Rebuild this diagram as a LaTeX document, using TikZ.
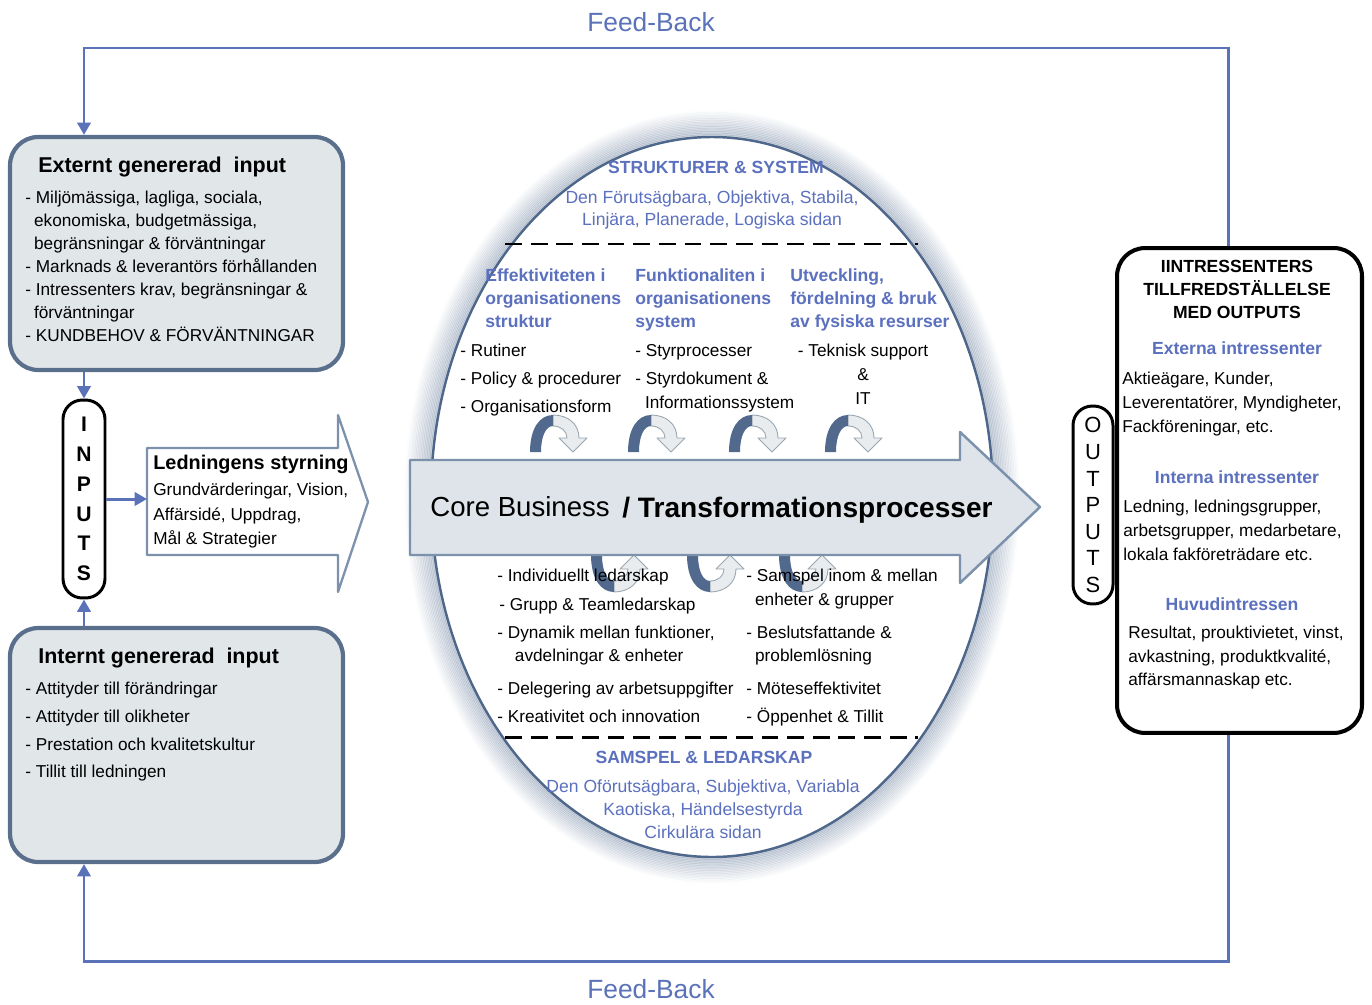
\documentclass[tikz,border=0pt]{standalone}
\usepackage{fontspec}
\setmainfont{Liberation Sans}
\usetikzlibrary{arrows.meta,positioning}

\definecolor{fbblue}{HTML}{5A72B8}
\definecolor{txtblue}{HTML}{5B70BE}
\definecolor{boxfill}{HTML}{E1E6E9}
\definecolor{boxline}{HTML}{5A6F8C}
\definecolor{ovaledge}{HTML}{4E678A}
\definecolor{loopdark}{HTML}{50698C}
\definecolor{looplight}{HTML}{E8ECEE}
\definecolor{loopgray}{HTML}{9AA6B0}
\definecolor{corefill}{HTML}{DEE4E9}
\definecolor{coreline}{HTML}{7C91AC}

\newcommand{\indnt}{\hspace*{5pt}}

\tikzset{
  fb/.style={fbblue, line width=1.7pt},
  fbtip/.style={-{Triangle[width=7.5pt,length=7pt]}},
  fblabel/.style={inner sep=0pt, text=fbblue, font=\fontsize{15}{17}\selectfont},
  inbox/.style={draw=boxline, fill=boxfill, line width=2.4pt, rounded corners=16pt,
    minimum width=6.66cm, minimum height=4.66cm},
  outbox/.style={draw=black, fill=white, line width=2.3pt, rounded corners=16pt,
    minimum width=4.9cm, minimum height=9.7cm},
  pill/.style={draw=black, fill=white, line width=1.7pt, rounded corners=11pt,
    inner sep=0pt, align=center, minimum height=3.96cm},
  boxtitle/.style={inner sep=0pt, anchor=west, font=\bfseries\fontsize{12.2}{14}\selectfont},
  itemlist/.style={inner sep=0pt, anchor=north west, align=left, font=\fontsize{9.8}{13.1}\selectfont},
  bhead/.style={inner sep=0pt, text=txtblue, font=\bfseries\fontsize{10}{13.3}\selectfont},
  btext/.style={inner sep=0pt, anchor=north, text=txtblue, align=center, font=\fontsize{10}{12.5}\selectfont},
  sepline/.style={black, line width=1.7pt, dash pattern=on 9.6pt off 5pt},
  corearrow/.style={draw=coreline, fill=corefill, line width=1.4pt, line join=round},
  ledarrow/.style={draw=coreline, fill=white, line width=1.3pt, line join=round},
  loop arrow/.pic={
    \filldraw[fill=looplight, draw=loopgray, line width=0.5pt, line join=round]
      (0,-37) .. controls (15,-37) and (26,-28) .. (26,-14) -- (34,-14) -- (20,0)
      -- (6,-14) -- (14,-14) .. controls (14,-21) and (8,-26) .. (0,-26) -- cycle;
    \fill[loopdark] (-23,0) .. controls (-23,-24) and (-13,-37) .. (0,-37) -- (0,-26)
      .. controls (-7,-26) and (-12,-16) .. (-12,0) -- cycle;
  }
}

\begin{document}
\begin{tikzpicture}[x=0.02cm, y=-0.02cm]
  \useasboundingbox (0,0) rectangle (1372,1004);

  % oval with soft edge
  \foreach \r in {1,...,16} {
    \pgfmathsetmacro\op{0.3*(1-\r/17)}
    \draw[ovaledge, line width=1.2pt, opacity=\op] (712,497) ellipse [x radius={281+1.6*\r}, y radius={360+1.6*\r}];
  }
  \draw[ovaledge, line width=1.4pt, fill=white] (712,497) ellipse [x radius=281, y radius=360];
  \draw[sepline] (505,244) -- (918,244);
  \draw[sepline] (505,737) -- (918,737);

  % loops round the core arrow
  \foreach \x in {553,651,752,848} \path (\x,452) pic {loop arrow};
  \foreach \x in {614,710,802} \path (\x,555) pic[yscale=-1] {loop arrow};

  % core arrow
  \draw[corearrow] (410,460) -- (960,460) -- (960,432) -- (1040,507) -- (960,583) -- (960,555) -- (410,555) -- cycle;
  \node[inner sep=0pt, anchor=west, font=\fontsize{15.7}{18}\selectfont] (core) at (430,507) {Core Business};
  \node[inner sep=0pt, anchor=west, font=\bfseries\fontsize{16}{18}\selectfont] (trans) at (622,510) {/ Transformationsprocesser};

  % strukturer & system
  \node[bhead] (strtitle) at (716,167) {STRUKTURER \& SYSTEM};
  \node[btext] (strtext) at (712,190) {Den Förutsägbara, Objektiva, Stabila,\\Linjära, Planerade, Logiska sidan};
  \node[bhead, anchor=north west, align=left] (colA) at (485,268) {Effektiviteten i\\organisationens\\struktur};
  \node[bhead, anchor=north west, align=left] (colB) at (635,268) {Funktionaliten i\\organisationens\\system};
  \node[bhead, anchor=north west, align=left] (colC) at (790,268) {Utveckling,\\fördelning \& bruk\\av fysiska resurser};
  \node[itemlist, font=\fontsize{9.8}{15.9}\selectfont] (itemsA) at (460,344) {- Rutiner\\- Policy \& procedurer\\- Organisationsform};
  \node[itemlist, font=\fontsize{9.8}{15.9}\selectfont] (itemsB) at (635,344) {- Styrprocesser\\- Styrdokument \&\\[-2.3pt]\hspace*{5.5pt}Informationssystem};
  \node[itemlist, anchor=north, align=center, font=\fontsize{9.8}{13.6}\selectfont] (itemsC) at (863,344) {- Teknisk support\\\&\\IT};

  % samspel & ledarskap
  \node[itemlist] (indiv) at (497,569) {- Individuellt ledarskap};
  \node[itemlist] (grupp) at (499,598) {- Grupp \& Teamledarskap};
  \node[itemlist, font=\fontsize{9.8}{13}\selectfont] (dynamik) at (497,626) {- Dynamik mellan funktioner,\\\hspace*{10pt}avdelningar \& enheter};
  \node[itemlist, font=\fontsize{9.8}{15.9}\selectfont] (deleg) at (497,682) {- Delegering av arbetsuppgifter\\- Kreativitet och innovation};
  \node[itemlist, font=\fontsize{9.8}{13.6}\selectfont] (samspel) at (746,569) {- Samspel inom \& mellan\\\indnt enheter \& grupper};
  \node[itemlist, font=\fontsize{9.8}{13}\selectfont] (beslut) at (746,626) {- Beslutsfattande \&\\\indnt problemlösning};
  \node[itemlist, font=\fontsize{9.8}{15.9}\selectfont] (mote) at (746,682) {- Möteseffektivitet\\- Öppenhet \& Tillit};
  \node[bhead] (samtitle) at (704,757) {SAMSPEL \& LEDARSKAP};
  \node[btext, font=\fontsize{10}{13.3}\selectfont] (samtext) at (703,779) {Den Oförutsägbara, Subjektiva, Variabla\\Kaotiska, Händelsestyrda\\Cirkulära sidan};

  % input side
  \node[inbox] (extbox) at (176.5,253.5) {};
  \node[inbox, minimum height=4.68cm] (intbox) at (176.5,745) {};
  \node[pill, minimum width=0.84cm, font=\bfseries\fontsize{12}{17}\selectfont] (inputs) at (84,499) {I\\N\\P\\U\\T\\S};
  \node[boxtitle] (exttitle) at (38,167) {Externt genererad\ \ input};
  \node[itemlist] (extlist) at (25,191) {- Miljömässiga, lagliga, sociala,\\\indnt ekonomiska, budgetmässiga,\\\indnt begränsningar \& förväntningar\\- Marknads \& leverantörs förhållanden\\- Intressenters krav, begränsningar \&\\\indnt förväntningar\\- KUNDBEHOV \& FÖRVÄNTNINGAR};
  \node[boxtitle] (inttitle) at (38,658) {Internt genererad\ \ input};
  \node[itemlist, font=\fontsize{9.8}{15.7}\selectfont] (intlist) at (25,682) {- Attityder till förändringar\\- Attityder till olikheter\\- Prestation och kvalitetskultur\\- Tillit till ledningen};

  \draw[ledarrow] (147,448) -- (338,448) -- (338,415) -- (368,502) -- (338,592) -- (338,555) -- (147,555) -- cycle;
  \coordinate (ledtail) at (147,499);
  \node[boxtitle, font=\bfseries\fontsize{11.3}{14}\selectfont] (ledtitle) at (153,464) {Ledningens styrning};
  \node[itemlist, font=\fontsize{9.8}{13.9}\selectfont] (ledlist) at (153,483) {Grundvärderingar, Vision,\\Affärsidé, Uppdrag,\\Mål \& Strategier};

  \draw[fb, fbtip] (extbox.south -| inputs.north) -- (inputs.north);
  \draw[fb, fbtip] (intbox.north -| inputs.south) -- (inputs.south);
  \draw[fb, fbtip] (inputs.east) -- (inputs.east -| ledtail);

  % output side
  \node[outbox] (rbox) at (1239.5,490.5) {};
  \node[pill, minimum width=0.8cm, font=\fontsize{12.5}{15.1}\selectfont] (outputs) at (1093,505) {O\\U\\T\\P\\U\\T\\S};
  \node[inner sep=0pt, anchor=north, align=center, font=\bfseries\fontsize{10}{13}\selectfont] (rtitle) at (1237,260) {IINTRESSENTERS\\TILLFREDSTÄLLELSE\\MED OUTPUTS};
  \node[bhead] (extern) at (1237,348) {Externa intressenter};
  \node[itemlist, font=\fontsize{9.8}{13.6}\selectfont] (externlist) at (1122,372) {Aktieägare, Kunder,\\Leverentatörer, Myndigheter,\\Fackföreningar, etc.};
  \node[bhead] (intern) at (1237,477) {Interna intressenter};
  \node[itemlist, font=\fontsize{9.8}{13.6}\selectfont] (internlist) at (1123,500) {Ledning, ledningsgrupper,\\arbetsgrupper, medarbetare,\\lokala fakföreträdare etc.};
  \node[bhead] (huvud) at (1232,604) {Huvudintressen};
  \node[itemlist, font=\fontsize{9.8}{13.3}\selectfont] (huvudlist) at (1128,626) {Resultat, prouktivietet, vinst,\\avkastning, produktkvalité,\\affärsmannaskap etc.};

  % feed-back loop
  \coordinate (fbtl) at (84,48);
  \coordinate (fbtr) at (1228,48);
  \coordinate (fbbl) at (84,961);
  \coordinate (fbbr) at (1228,961);
  \draw[fb, fbtip] (rbox.north -| fbtr) -- (fbtr) -- (fbtl) -- (extbox.north -| fbtl);
  \draw[fb, fbtip] (rbox.south -| fbbr) -- (fbbr) -- (fbbl) -- (intbox.south -| fbbl);
  \node[fblabel] (fbtop) at (651,22) {Feed-Back};
  \node[fblabel] (fbbot) at (651,989) {Feed-Back};
\end{tikzpicture}
\end{document}
